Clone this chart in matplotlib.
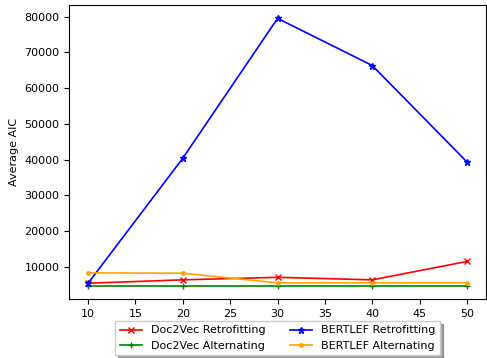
import matplotlib
matplotlib.use("Agg")
import matplotlib.pyplot as plt

dims = [10, 20, 30, 40, 50]
d2v_retro = [5400, 6350, 7050, 6350, 11500]
d2v_alt = [4650, 4650, 4650, 4650, 4650]
bert_retro = [5400, 40400, 79500, 66300, 39300]
bert_alt = [8300, 8200, 5500, 5500, 5500]

plt.rcParams["font.size"] = 8
plt.rcParams["lines.linewidth"] = 1.2
plt.rcParams["lines.markersize"] = 5
plt.rcParams["axes.linewidth"] = 0.8

fig = plt.figure(figsize=(4.87, 3.58), dpi=100)
ax = fig.add_axes([0.142, 0.164, 0.856, 0.822])
ax.plot(dims, d2v_retro, color="red", marker="x", label="Doc2Vec Retrofitting")
ax.plot(dims, d2v_alt, color="green", marker="+", label="Doc2Vec Alternating")
ax.plot(dims, bert_retro, color="blue", marker="*", label="BERTLEF Retrofitting")
ax.plot(dims, bert_alt, color="orange", marker=".", label="BERTLEF Alternating")
ax.set_ylabel("Average AIC")
ax.legend(loc="upper center", bbox_to_anchor=(0.5, -0.055), ncol=2, shadow=True,
          fancybox=False, columnspacing=2.2)
fig.savefig("out.png", dpi=100)
